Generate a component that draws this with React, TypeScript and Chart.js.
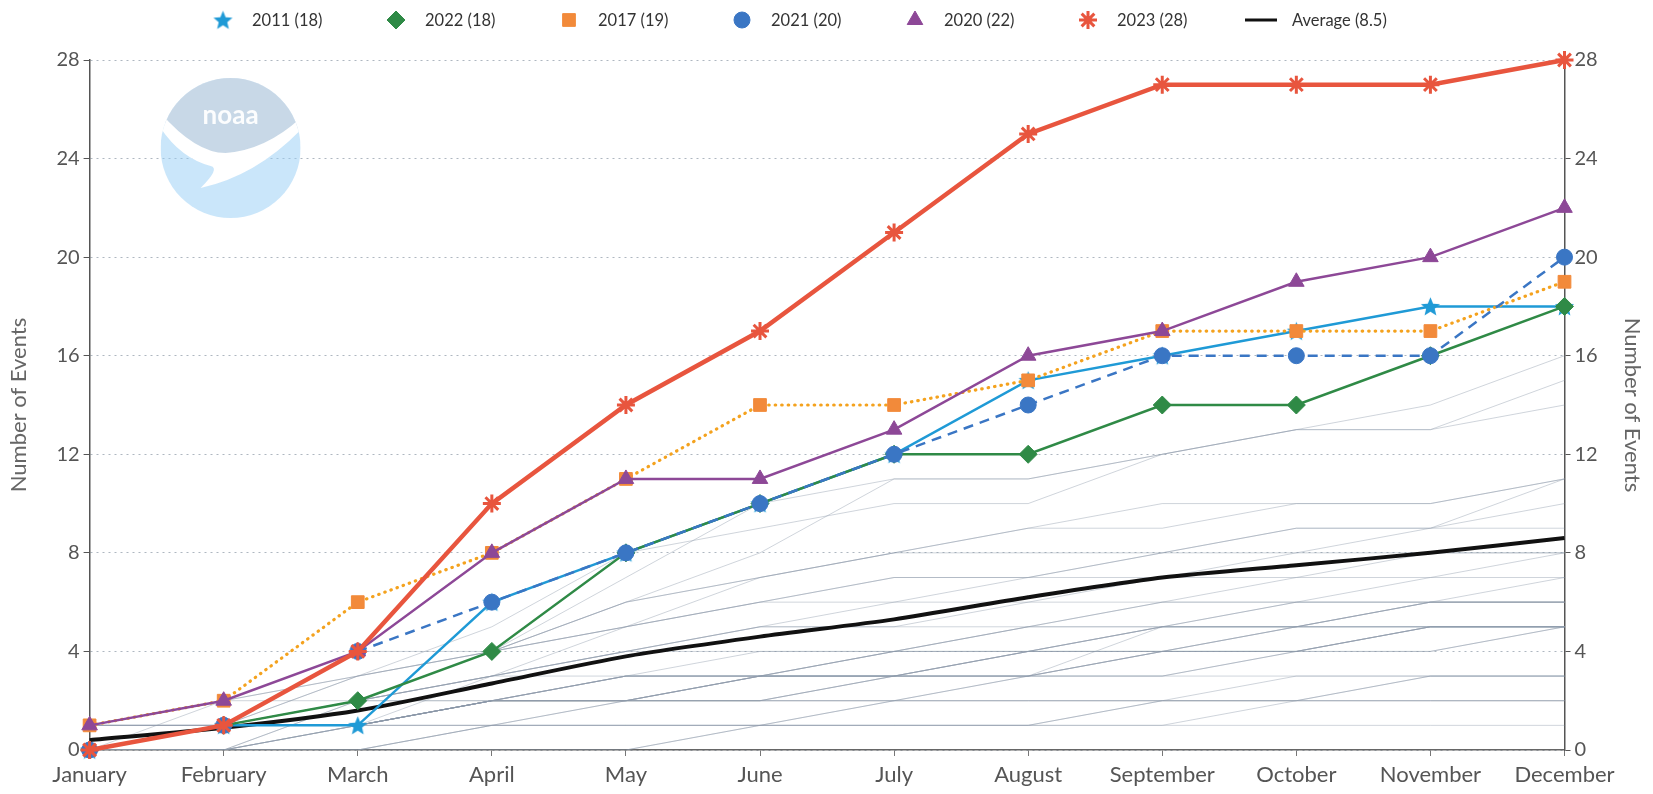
import React, { useEffect, useRef } from "react";
import { Chart, registerables } from "chart.js";
import { drawPoint } from "chart.js/helpers";

Chart.register(...registerables);

// ---------- data ----------
const months = [
  "January", "February", "March", "April", "May", "June",
  "July", "August", "September", "October", "November", "December",
];
const yTickValues = [0, 4, 8, 12, 16, 20, 24, 28];

const y2011 = [0, 1, 1, 6, 8, 10, 12, 15, 16, 17, 18, 18];
const y2022 = [0, 1, 2, 4, 8, 10, 12, 12, 14, 14, 16, 18];
const y2017 = [1, 2, 6, 8, 11, 14, 14, 15, 17, 17, 17, 19];
const y2021 = [0, 1, 4, 6, 8, 10, 12, 14, 16, 16, 16, 20];
const y2020 = [1, 2, 4, 8, 11, 11, 13, 16, 17, 19, 20, 22];
const y2023 = [0, 1, 4, 10, 14, 17, 21, 25, 27, 27, 27, 28];
const average = [0.4, 0.9, 1.6, 2.7, 3.8, 4.6, 5.3, 6.2, 7.0, 7.5, 8.0, 8.6];

const legendLabels = ["2011 (18)", "2022 (18)", "2017 (19)", "2021 (20)", "2020 (22)", "2023 (28)", "Average (8.5)"];

// other years (grey background lines)
const y1980 = [0, 0, 0, 1, 1, 1, 2, 2, 2, 3, 3, 3];
const y1981 = [0, 0, 0, 1, 1, 1, 1, 1, 1, 2, 2, 2];
const y1982 = [1, 1, 1, 2, 2, 2, 2, 2, 2, 2, 3, 3];
const y1983 = [0, 1, 2, 2, 3, 3, 3, 4, 4, 5, 5, 5];
const y1984 = [0, 0, 1, 1, 1, 1, 1, 1, 2, 2, 2, 2];
const y1985 = [1, 1, 1, 1, 2, 2, 2, 3, 4, 5, 6, 6];
const y1986 = [0, 1, 1, 1, 1, 1, 2, 2, 2, 2, 3, 3];
const y1987 = [0, 0, 0, 0, 0, 1, 1, 1, 1, 1, 1, 1];
const y1988 = [0, 0, 0, 0, 0, 1, 1, 1, 2, 2, 2, 2];
const y1989 = [0, 1, 1, 2, 2, 3, 3, 3, 4, 5, 5, 5];
const y1990 = [0, 1, 2, 2, 3, 3, 4, 4, 4, 4, 5, 5];
const y1991 = [0, 1, 1, 2, 2, 2, 3, 3, 3, 4, 4, 5];
const y1992 = [0, 0, 1, 2, 2, 3, 4, 5, 6, 6, 6, 7];
const y1993 = [0, 0, 1, 2, 2, 2, 3, 3, 4, 4, 4, 5];
const y1994 = [0, 1, 1, 2, 2, 2, 3, 3, 3, 4, 5, 5];
const y1995 = [0, 1, 1, 2, 3, 3, 3, 4, 4, 4, 5, 5];
const y1996 = [1, 1, 1, 2, 2, 3, 3, 4, 5, 5, 6, 6];
const y1997 = [1, 1, 2, 3, 3, 4, 4, 4, 5, 5, 6, 6];
const y1998 = [1, 2, 3, 4, 5, 6, 6, 7, 8, 9, 9, 11];
const y1999 = [1, 1, 1, 2, 3, 3, 4, 4, 5, 5, 5, 5];
const y2000 = [0, 0, 1, 2, 2, 3, 3, 4, 4, 4, 5, 5];
const y2001 = [0, 1, 1, 2, 2, 3, 3, 3, 3, 3, 3, 3];
const y2002 = [0, 0, 1, 2, 3, 3, 3, 3, 4, 4, 5, 5];
const y2003 = [0, 1, 2, 3, 4, 5, 5, 5, 6, 6, 7, 7];
const y2004 = [0, 0, 0, 1, 2, 2, 2, 3, 5, 6, 6, 6];
const y2005 = [1, 1, 1, 2, 2, 3, 3, 4, 5, 5, 6, 6];
const y2006 = [0, 0, 2, 3, 4, 5, 5, 6, 6, 7, 7, 8];
const y2007 = [0, 1, 1, 2, 3, 3, 4, 5, 5, 6, 6, 6];
const y2008 = [1, 2, 2, 4, 6, 7, 8, 9, 10, 10, 10, 11];
const y2009 = [1, 2, 4, 4, 5, 6, 7, 7, 7, 8, 8, 8];
const y2010 = [0, 1, 2, 3, 4, 4, 4, 5, 5, 5, 5, 5];
const y2012 = [0, 0, 2, 3, 5, 7, 8, 9, 9, 10, 10, 11];
const y2013 = [0, 1, 2, 4, 5, 6, 7, 7, 8, 8, 9, 9];
const y2014 = [0, 1, 1, 3, 4, 5, 6, 6, 7, 7, 8, 8];
const y2015 = [0, 2, 3, 4, 6, 7, 8, 8, 8, 9, 9, 10];
const y2016 = [0, 1, 3, 5, 8, 9, 10, 10, 12, 13, 13, 15];
const y2018 = [0, 1, 2, 4, 6, 8, 11, 11, 12, 13, 14, 16];
const y2019 = [0, 1, 3, 4, 7, 10, 11, 11, 12, 13, 13, 14];

const otherYears = [
  y1980, y1981, y1982, y1983, y1984, y1985, y1986, y1987, y1988, y1989,
  y1990, y1991, y1992, y1993, y1994, y1995, y1996, y1997, y1998, y1999,
  y2000, y2001, y2002, y2003, y2004, y2005, y2006, y2007, y2008, y2009,
  y2010, y2012, y2013, y2014, y2015, y2016, y2018, y2019,
];

// ---------- styles ----------
const FONT = "Lato, 'Open Sans', sans-serif";
const C2011 = "#1f9ad6";
const C2022 = "#2f8a46";
const C2017 = "#f4a21e";
const C2017M = "#f28a3a";
const C2021 = "#3a76c4";
const C2020 = "#8d4897";
const C2023 = "#e8553e";

function makeStar(size: number, color: string): HTMLCanvasElement {
  const c = document.createElement("canvas");
  c.width = size;
  c.height = size;
  const ctx = c.getContext("2d")!;
  const cx = size / 2, cy = size / 2 + size * 0.04;
  const R = size / 2 - 0.5, r = R * 0.45;
  ctx.beginPath();
  for (let i = 0; i < 10; i++) {
    const rad = i % 2 === 0 ? R : r;
    const a = -Math.PI / 2 + (i * Math.PI) / 5;
    const x = cx + rad * Math.cos(a), y = cy + rad * Math.sin(a);
    if (i === 0) ctx.moveTo(x, y);
    else ctx.lineTo(x, y);
  }
  ctx.closePath();
  ctx.fillStyle = color;
  ctx.fill();
  return c;
}

const logoPlugin = {
  id: "noaaLogo",
  beforeDatasetsDraw(chart: any) {
    const { ctx, chartArea } = chart;
    const cx = chartArea.left + 141;
    const cy = chartArea.top + 88;
    const R = 70;
    ctx.save();
    ctx.beginPath();
    ctx.arc(cx, cy, R, 0, Math.PI * 2);
    ctx.clip();
    ctx.fillStyle = "rgba(150,205,245,0.5)";
    ctx.fillRect(cx - R, cy - R, 2 * R, 2 * R);
    // upper grey part
    ctx.beginPath();
    ctx.moveTo(cx - R, cy - R);
    ctx.lineTo(cx + R, cy - R);
    ctx.lineTo(cx + R, cy - 20);
    ctx.quadraticCurveTo(cx + 20, cy + 10, cx - 10, cy + 8);
    ctx.quadraticCurveTo(cx - 45, cy - 5, cx - R, cy - 30);
    ctx.closePath();
    ctx.fillStyle = "rgba(200,205,216,0.55)";
    ctx.fill();
    // white swoosh
    ctx.beginPath();
    ctx.moveTo(cx - R, cy - 35);
    ctx.quadraticCurveTo(cx - 35, cy + 5, cx - 5, cy + 5);
    ctx.quadraticCurveTo(cx + 35, cy + 2, cx + R, cy - 30);
    ctx.lineTo(cx + R, cy - 18);
    ctx.quadraticCurveTo(cx + 25, cy + 28, cx - 30, cy + 40);
    ctx.quadraticCurveTo(cx - 10, cy + 20, cx - 20, cy + 18);
    ctx.quadraticCurveTo(cx - 50, cy + 10, cx - R, cy - 20);
    ctx.closePath();
    ctx.fillStyle = "#ffffff";
    ctx.fill();
    ctx.fillStyle = "rgba(255,255,255,0.95)";
    ctx.font = "bold 26px " + FONT;
    ctx.textAlign = "center";
    ctx.textBaseline = "middle";
    ctx.fillText("noaa", cx, cy - 32);
    ctx.restore();
  },
};

const legendPlugin = {
  id: "customLegend",
  afterDraw(chart: any) {
    const ctx = chart.ctx;
    const x0 = 223;
    const step = 173;
    const yc = 20;
    ctx.save();
    ctx.font = "16.5px " + FONT;
    ctx.textBaseline = "middle";
    ctx.textAlign = "left";
    for (let i = 0; i < legendLabels.length; i++) {
      const ds = chart.data.datasets[i];
      const cx = x0 + i * step;
      let textX = cx + 16;
      if (i === legendLabels.length - 1) {
        ctx.strokeStyle = "#111";
        ctx.lineWidth = 3;
        ctx.beginPath();
        ctx.moveTo(cx - 16, yc);
        ctx.lineTo(cx + 16, yc);
        ctx.stroke();
        textX = cx + 31;
      } else {
        ctx.fillStyle = ds.pointBackgroundColor;
        ctx.strokeStyle = ds.pointBorderColor;
        ctx.lineWidth = ds.pointBorderWidth;
        drawPoint(ctx, {
          pointStyle: ds.pointStyle,
          radius: ds.legendRadius,
          rotation: 0,
          borderWidth: ds.pointBorderWidth,
        } as any, cx, yc);
        textX = cx + 29;
      }
      ctx.fillStyle = "#333";
      ctx.fillText(legendLabels[i], textX, yc + 1);
    }
    ctx.restore();
  },
};

export default function App() {
  const canvasRef = useRef<HTMLCanvasElement | null>(null);

  useEffect(() => {
    const canvas = canvasRef.current;
    if (!canvas) return;
    const star = makeStar(21, C2011);

    const highlight = (
      label: string, data: number[], color: string, markerColor: string,
      pointStyle: any, radius: number, order: number, extra: any = {}
    ) => ({
      label, data,
      borderColor: color,
      backgroundColor: markerColor,
      pointBackgroundColor: markerColor,
      pointBorderColor: markerColor,
      pointBorderWidth: 1,
      pointStyle,
      pointRadius: radius,
      legendRadius: radius,
      borderWidth: 2.5,
      tension: 0,
      clip: false,
      order,
      ...extra,
    });

    const datasets: any[] = [
      highlight("2011 (18)", y2011, C2011, C2011, star, 10, 6),
      highlight("2022 (18)", y2022, C2022, C2022, "rectRot", 9, 5),
      highlight("2017 (19)", y2017, C2017, C2017M, "rect", 9, 4, { borderDash: [0.5, 6], borderWidth: 3.2, borderCapStyle: "round" }),
      highlight("2021 (20)", y2021, C2021, C2021, "circle", 8, 3, { borderDash: [10, 7] }),
      highlight("2020 (22)", y2020, C2020, C2020, "triangle", 9, 2),
      highlight("2023 (28)", y2023, C2023, C2023, "star", 9, 0, { borderWidth: 4.5, pointBorderWidth: 3 }),
      {
        label: "Average (8.5)",
        data: average,
        borderColor: "#111111",
        backgroundColor: "#111111",
        borderWidth: 4,
        pointRadius: 0,
        pointStyle: "line",
        tension: 0.25,
        order: 7,
      },
      ...otherYears.map((d, i) => ({
        label: "other" + i,
        data: d,
        borderColor: "rgba(140,152,170,0.42)",
        borderWidth: 1,
        pointRadius: 0,
        tension: 0,
        order: 10,
      })),
    ];

    const chart = new Chart(canvas, {
      type: "line",
      data: { labels: months, datasets },
      plugins: [logoPlugin, legendPlugin],
      options: {
        animation: false,
        responsive: false,
        maintainAspectRatio: false,
        devicePixelRatio: 1,
        layout: { padding: { top: 60, left: 0, right: 0, bottom: 0 } },
        plugins: {
          legend: { display: false },
          tooltip: { enabled: false },
        },
        scales: {
          x: {
            type: "category",
            offset: false,
            grid: {
              display: true,
              drawOnChartArea: false,
              drawTicks: true,
              tickLength: 6,
              tickColor: "#777",
            },
            border: { display: true, color: "#666", width: 1.5 },
            ticks: {
              color: "#555",
              font: { family: FONT, size: 22 },
              padding: 6,
              maxRotation: 0,
              autoSkip: false,
            },
            afterFit: (s: any) => { s.height = 44; },
          },
          y: {
            position: "left",
            min: 0,
            max: 28,
            afterBuildTicks: (s: any) => { s.ticks = yTickValues.map((v) => ({ value: v })); },
            grid: {
              color: "rgba(120,135,150,0.6)",
              lineWidth: 1,
              drawTicks: true,
              tickLength: 6,
              tickColor: "#555",
              tickBorderDash: [],
            },
            border: { display: true, color: "#555", width: 1.5, dash: [2, 4] },
            ticks: { color: "#555", font: { family: FONT, size: 20 }, padding: 4 },
            title: {
              display: true,
              text: "Number of Events",
              color: "#666",
              font: { family: FONT, size: 22 },
              padding: { top: 6, bottom: 0 },
            },
            afterFit: (s: any) => { s.width = 89.6; },
          },
          y2: {
            position: "right",
            min: 0,
            max: 28,
            afterBuildTicks: (s: any) => { s.ticks = yTickValues.map((v) => ({ value: v })); },
            grid: {
              drawOnChartArea: false,
              drawTicks: true,
              tickLength: 6,
              tickColor: "#555",
            },
            border: { display: true, color: "#555", width: 1.5 },
            ticks: { color: "#555", font: { family: FONT, size: 20 }, padding: 4 },
            title: {
              display: true,
              text: "Number of Events",
              color: "#666",
              font: { family: FONT, size: 22 },
              padding: { top: 8, bottom: 0 },
            },
            afterFit: (s: any) => { s.width = 88.5; },
          },
        },
      } as any,
    });

    return () => chart.destroy();
  }, []);

  return (
    <div style={{ position: "absolute", left: 0, top: 0, width: 1653, height: 794, background: "#fff" }}>
      <canvas ref={canvasRef} width={1653} height={794} style={{ width: 1653, height: 794, display: "block" }} />
    </div>
  );
}
